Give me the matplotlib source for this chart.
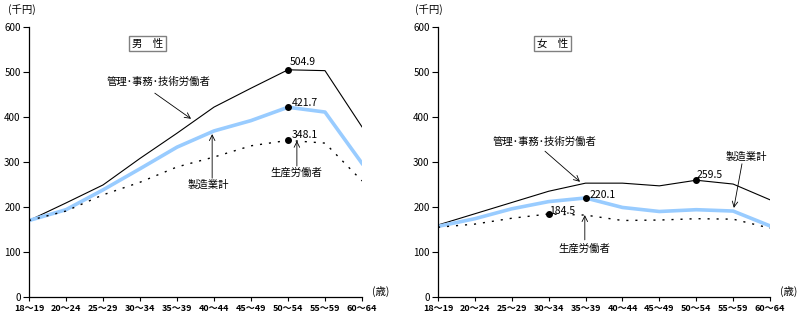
import numpy as np
import matplotlib
matplotlib.use('Agg')
import matplotlib.pyplot as plt

plt.rcParams['font.family'] = ['Noto Sans CJK JP', 'DejaVu Sans']

# Age groups
ages = ['18～19', '20～24', '25～29', '30～34', '35～39', '40～44', '45～49', '50～54', '55～59', '60～64']

# Men (thousand yen)
men_kanri = [170, 209, 249, 308, 364, 422, 464, 504.9, 503, 378]
men_seizo = [170, 194, 238, 285, 333, 369, 392, 421.7, 411, 297]
men_seisan = [170, 191, 227, 255, 289, 311, 336, 348.1, 342, 258]

# Women (thousand yen)
women_kanri = [160, 185, 210, 235, 253, 253, 247, 259.5, 251, 216]
women_seizo = [157, 174, 196, 212, 220.1, 199, 190, 194, 191, 158]
women_seisan = [155, 162, 175, 184.5, 182, 170, 171, 174, 173, 153]

x = np.arange(len(ages))

fig = plt.figure(figsize=(8.03, 3.21), dpi=100)
ax1 = fig.add_axes([29/803, 24/321, 333/803, 270/321])
ax2 = fig.add_axes([438/803, 24/321, 332/803, 270/321])

fs = 7.5


def setup(ax, kanri, seizo, seisan):
    ax.plot(x, kanri, color='black', lw=0.8)
    ax.plot(x, seizo, color='#99ccff', lw=2.6)
    ax.plot(x, seisan, color='black', lw=1.0, linestyle=(0, (1.5, 5)))
    ax.set_xlim(0, 9)
    ax.set_ylim(0, 600)
    ax.set_yticks(np.arange(0, 601, 100))
    ax.set_xticks(x)
    ax.set_xticklabels(ages, fontsize=6.5, fontweight='bold')
    ax.tick_params(axis='y', labelsize=7, length=4, width=0.8, pad=2)
    ax.tick_params(axis='x', length=3, width=0.8, pad=2)
    for s in ['top', 'right']:
        ax.spines[s].set_visible(False)
    for s in ['left', 'bottom']:
        ax.spines[s].set_linewidth(0.9)
    ax.text(1.03, 0.0, '(歳)', transform=ax.transAxes, fontsize=fs, va='bottom', ha='left', clip_on=False)


setup(ax1, men_kanri, men_seizo, men_seisan)
setup(ax2, women_kanri, women_seizo, women_seisan)

fig.text(22/803, 1 - 10/321, '(千円)', fontsize=fs, ha='center', va='center')
fig.text(429/803, 1 - 10/321, '(千円)', fontsize=fs, ha='center', va='center')

box = dict(boxstyle='square,pad=0.25', facecolor='white', edgecolor='#808080', lw=1)
ax1.text(3.2, 563, '男　性', fontsize=fs, ha='center', va='center', bbox=box)
ax2.text(3.1, 563, '女　性', fontsize=fs, ha='center', va='center', bbox=box)

arrow = dict(arrowstyle='->', color='black', lw=0.6, shrinkA=0, shrinkB=0)

# Men annotations
ax1.plot([7], [men_kanri[7]], 'o', color='black', ms=4)
ax1.plot([7], [men_seizo[7]], 'o', color='black', ms=4)
ax1.plot([7], [men_seisan[7]], 'o', color='black', ms=4)
ax1.text(7.05, 522, f'{men_kanri[7]:.1f}', fontsize=fs, ha='left', va='center')
ax1.text(7.1, 431, f'{men_seizo[7]:.1f}', fontsize=fs, ha='left', va='center')
ax1.text(7.1, 360, f'{men_seisan[7]:.1f}', fontsize=fs, ha='left', va='center')

ax1.text(3.49, 478, '管理･事務･技術労働者', fontsize=fs, ha='center', va='center')
ax1.annotate('', xy=(4.38, 396), xytext=(3.4, 453), arrowprops=arrow)
ax1.text(4.86, 249, '製造業計', fontsize=fs, ha='center', va='center')
ax1.annotate('', xy=(4.95, 362), xytext=(4.95, 264), arrowprops=arrow)
ax1.text(7.24, 276, '生産労働者', fontsize=fs, ha='center', va='center')
ax1.annotate('', xy=(7.24, 347), xytext=(7.24, 291), arrowprops=arrow)

# Women annotations
ax2.plot([7], [women_kanri[7]], 'o', color='black', ms=4)
ax2.plot([4], [women_seizo[4]], 'o', color='black', ms=4)
ax2.plot([3], [women_seisan[3]], 'o', color='black', ms=4)
ax2.text(7.02, 271, f'{women_kanri[7]:.1f}', fontsize=fs, ha='left', va='center')
ax2.text(4.12, 227, f'{women_seizo[4]:.1f}', fontsize=fs, ha='left', va='center')
ax2.text(3.0, 191, f'{women_seisan[3]:.1f}', fontsize=fs, ha='left', va='center')

ax2.text(2.9, 344, '管理･事務･技術労働者', fontsize=fs, ha='center', va='center')
ax2.annotate('', xy=(3.85, 256), xytext=(2.9, 324), arrowprops=arrow)
ax2.text(8.35, 311, '製造業計', fontsize=fs, ha='center', va='center')
ax2.annotate('', xy=(8.02, 198), xytext=(8.24, 296), arrowprops=arrow)
ax2.text(3.98, 107, '生産労働者', fontsize=fs, ha='center', va='center')
ax2.annotate('', xy=(3.98, 182), xytext=(3.98, 127), arrowprops=arrow)

fig.savefig('out.png', dpi=100)
